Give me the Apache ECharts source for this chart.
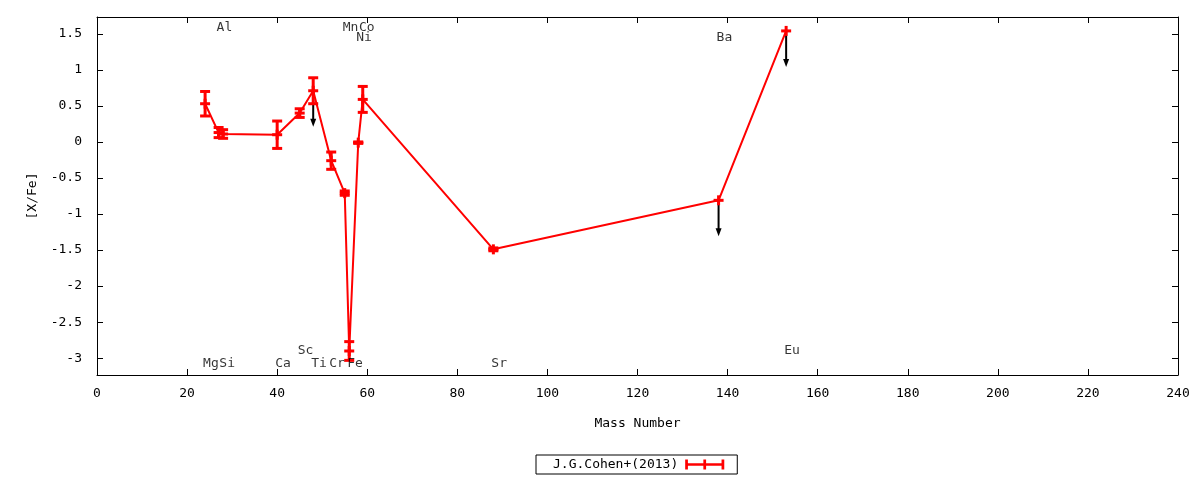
<!DOCTYPE html>
<html>
<head>
<meta charset="utf-8">
<script src="https://cdn.jsdelivr.net/npm/echarts@6/dist/echarts.min.js"></script>
<style>html,body{margin:0;padding:0;background:#fff}#c{width:1200px;height:480px}</style>
</head>
<body>
<div id="c"></div>
<script>
// ---- data ----
const elements    = ['Mg','Al','Si','Ca','Sc','Ti','Cr','Mn','Fe','Ni','Co','Sr','Ba','Eu'];
const massNumbers = [24, 27, 28, 40, 45, 48, 52, 55, 56, 58, 59, 88, 138, 153];
const xfeValues   = [0.53, 0.13, 0.11, 0.10, 0.40, 0.71, -0.26, -0.71, -2.90, -0.01, 0.59, -1.49, -0.81, 1.54];
const xfeErrors   = [0.17, 0.07, 0.06, 0.19, 0.06, 0.18, 0.12, 0.03, 0.13, 0.01, 0.18, 0.02, 0, 0];

const limitMass   = [48, 138, 153];
const limitFrom   = [0.71, -0.81, 1.54];
const limitTo     = [0.21, -1.31, 1.04];

const labelNames  = ['Al','Mn','Co','Ni','Ba','Mg','Si','Ca','Ti','Cr','Fe','Sr','Sc','Eu'];
const labelMass   = [27, 55, 58.6, 58, 138, 24, 27.6, 40, 48, 52, 56, 88, 45, 153];
const labelY      = [1.58, 1.58, 1.58, 1.44, 1.44, -3.07, -3.07, -3.07, -3.07, -3.07, -3.07, -3.07, -2.89, -2.89];

const xTicks = [0, 20, 40, 60, 80, 100, 120, 140, 160, 180, 200, 220, 240];
const yTicks = [-3, -2.5, -2, -1.5, -1, -0.5, 0, 0.5, 1, 1.5];

const seriesName = 'J.G.Cohen+(2013)';
// ---------------

const FONT = 'DejaVu Sans Mono';
const RED = '#ff0000';

const lineData = massNumbers.map((m, i) => [m, xfeValues[i]]);
const errData = massNumbers.map((m, i) => [m, xfeValues[i], xfeErrors[i]]);
const arrowData = limitMass.map((m, i) => [m, limitFrom[i], limitTo[i]]);
const labelData = labelNames.map((n, i) => ({ value: [labelMass[i], labelY[i]], name: n }));

function seg(x1, y1, x2, y2, w, c) {
  return { type: 'line', shape: { x1, y1, x2, y2 }, style: { stroke: c, lineWidth: w } };
}

function renderErr(params, api) {
  const x = api.value(0), y = api.value(1), e = api.value(2);
  const p = api.coord([x, y]);
  const ch = [];
  if (e > 0) {
    const t = api.coord([x, y + e]);
    const b = api.coord([x, y - e]);
    ch.push(seg(p[0], t[1], p[0], b[1], 3, RED));
    ch.push(seg(p[0] - 5, t[1], p[0] + 5, t[1], 3, RED));
    ch.push(seg(p[0] - 5, b[1], p[0] + 5, b[1], 3, RED));
  }
  ch.push(seg(p[0] - 5, p[1], p[0] + 5, p[1], 3, RED));
  ch.push(seg(p[0], p[1] - 5, p[0], p[1] + 5, 3, RED));
  return { type: 'group', children: ch };
}

function renderArrow(params, api) {
  const x = api.value(0);
  const a = api.coord([x, api.value(1)]);
  const b = api.coord([x, api.value(2)]);
  const head = 8;
  return {
    type: 'group',
    children: [
      seg(a[0], a[1], b[0], b[1] - head + 1, 2, '#000'),
      { type: 'polygon', shape: { points: [[b[0] - 3, b[1] - head], [b[0] + 3, b[1] - head], [b[0], b[1]]] },
        style: { fill: '#000' } }
    ]
  };
}

const chart = echarts.init(document.getElementById('c'));
const axisLine = { show: true, onZero: false, lineStyle: { color: '#000', width: 1 } };
const tickX = { show: true, inside: true, length: 6, lineStyle: { color: '#000' }, customValues: xTicks };
const tickY = { show: true, inside: true, length: 6, lineStyle: { color: '#000' }, customValues: yTicks };

chart.setOption({
  animation: false,
  backgroundColor: '#fff',
  textStyle: { fontFamily: FONT },
  grid: { left: 97, right: 22, top: 17, bottom: 105, containLabel: false },
  legend: {
    left: 536, top: 455,
    align: 'right',
    orient: 'horizontal',
    borderColor: '#000', borderWidth: 1, borderRadius: 0,
    padding: [3, 13, 3, 17],
    itemWidth: 43, itemHeight: 10,
    textStyle: { fontFamily: FONT, fontSize: 13, color: '#000' },
    data: [{
      name: seriesName,
      icon: 'path://M0,4h43v3h-43z M0,0h3v11h-3z M20,0h3v11h-3z M40,0h3v11h-3z',
      itemStyle: { color: RED }
    }]
  },
  xAxis: [
    {
      type: 'value', min: 0, max: 240, interval: 20, position: 'bottom',
      axisLine, splitLine: { show: false }, axisTick: tickX,
      name: 'Mass Number', nameLocation: 'middle', nameGap: 42,
      nameTextStyle: { fontFamily: FONT, fontSize: 13, color: '#000' },
      axisLabel: { fontFamily: FONT, fontSize: 13, color: '#000', margin: 12, customValues: xTicks }
    },
    {
      type: 'value', min: 0, max: 240, interval: 20, position: 'top',
      axisLine, splitLine: { show: false }, axisTick: tickX,
      axisLabel: { show: false }
    }
  ],
  yAxis: [
    {
      type: 'value', min: -3.233, max: 1.733, position: 'left',
      axisLine, splitLine: { show: false }, axisTick: tickY,
      name: '[X/Fe]', nameLocation: 'middle', nameGap: 58, nameRotate: 90,
      nameTextStyle: { fontFamily: FONT, fontSize: 13, color: '#000' },
      axisLabel: { fontFamily: FONT, fontSize: 13, color: '#000', margin: 15, customValues: yTicks }
    },
    {
      type: 'value', min: -3.233, max: 1.733, position: 'right',
      axisLine, splitLine: { show: false }, axisTick: tickY,
      axisLabel: { show: false }
    }
  ],
  series: [
    {
      name: 'limits', type: 'custom', renderItem: renderArrow, data: arrowData, z: 2,
      encode: { x: 0, y: [1, 2] }, clip: false
    },
    {
      name: seriesName, type: 'line', data: lineData, symbol: 'none', z: 3,
      itemStyle: { color: RED },
      lineStyle: { color: RED, width: 2 }
    },
    {
      name: 'errors', type: 'custom', renderItem: renderErr, data: errData, z: 4,
      encode: { x: 0, y: 1 }, clip: false
    },
    {
      name: 'labels', type: 'scatter', data: labelData, symbolSize: 1, z: 5,
      itemStyle: { color: 'rgba(0,0,0,0)' },
      label: {
        show: true, position: 'inside', align: 'left', verticalAlign: 'middle',
        offset: [-2, 0],
        formatter: p => p.name,
        fontFamily: FONT, fontSize: 13, color: '#000'
      },
      emphasis: { disabled: true }
    }
  ]
});
</script>
</body>
</html>
